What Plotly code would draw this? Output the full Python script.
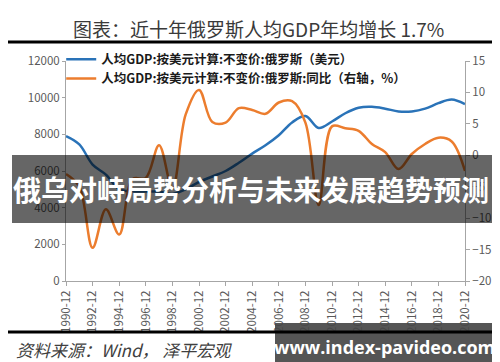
import plotly.graph_objects as go

years = list(range(1990, 2021))
tick_years = list(range(1990, 2021, 2))
tick_labels = [f"{y}-12" for y in tick_years]

gdp_per_capita = [7900, 7450, 6350, 5800, 5000, 4900, 4880, 4880, 4750, 5000,
                  5400, 5700, 6000, 6450, 6950, 7400, 7950, 8650, 9000, 8350,
                  8700, 9150, 9450, 9500, 9400, 9250, 9250, 9400, 9700, 9900, 9650]
gdp_yoy = [-3.0, -5.0, -14.7, -8.6, -12.6, -3.8, -3.6, 1.6, -5.3, 6.5,
           10.4, 5.3, 5.2, 7.5, 7.2, 6.6, 8.4, 8.6, 5.2, -7.9,
           4.6, 4.3, 3.9, 1.8, 0.5, -2.2, 0.2, 1.8, 2.8, 2.2, -2.5]

name_blue = "人均GDP:按美元计算:不变价:俄罗斯（美元）"
name_orange = "人均GDP:按美元计算:不变价:俄罗斯:同比（右轴，%）"
title_text = "图表：近十年俄罗斯人均GDP年均增长 1.7%"
source_text = "资料来源：Wind， 泽平宏观"
banner_text = "俄乌对峙局势分析与未来发展趋势预测"
watermark_text = "www.index-pavideo.com"

FONT = "Noto Sans CJK SC"
GREY = "#595959"
AXIS = "#a6a6a6"

fig = go.Figure()
fig.add_trace(go.Scatter(x=years, y=gdp_per_capita, name=name_blue, mode="lines",
                         line=dict(color="#2a73b8", width=2.5, shape="spline", smoothing=1.0),
                         yaxis="y"))
fig.add_trace(go.Scatter(x=years, y=gdp_yoy, name=name_orange, mode="lines",
                         line=dict(color="#ec7d2e", width=2.5, shape="spline", smoothing=1.0),
                         yaxis="y2"))

fig.update_layout(
    width=500, height=362,
    margin=dict(l=58, r=43, t=53, b=89),
    paper_bgcolor="white", plot_bgcolor="white",
    font=dict(family=FONT, color=GREY),
    showlegend=True,
    legend=dict(x=-0.012, y=1.075, xanchor="left", yanchor="top",
                bgcolor="rgba(0,0,0,0)", font=dict(size=12.5, color="#1a1a1a", family=FONT, weight="bold"),
                itemwidth=30, tracegroupgap=0),
    xaxis=dict(range=[1990, 2020], tickvals=tick_years, ticktext=tick_labels,
               tickangle=-90, showgrid=False, zeroline=False, showline=True,
               linecolor=AXIS, linewidth=1, ticks="outside", tickcolor=AXIS, ticklen=4,
               tickfont=dict(size=11.5, color=GREY)),
    yaxis=dict(range=[0, 12000], dtick=2000, tickformat="d", showgrid=False, zeroline=False,
               showline=True, linecolor=AXIS, linewidth=1, ticks="outside",
               tickcolor=AXIS, ticklen=3, tickfont=dict(size=11.5, color=GREY)),
    yaxis2=dict(range=[-20, 15], dtick=5, overlaying="y", side="right",
                showgrid=False, zeroline=False, showline=True, linecolor=AXIS,
                linewidth=1, ticks="outside", tickcolor=AXIS, ticklen=4,
                tickfont=dict(size=11.5, color=GREY)),
)

def px_x(x):
    return (x - 58) / 399.0

def px_y(y):
    return (273 - y) / 220.0

shapes = [
    dict(type="line", xref="paper", yref="paper", x0=px_x(0), x1=px_x(500),
         y0=px_y(34), y1=px_y(34), line=dict(color="black", width=3), layer="above"),
    dict(type="rect", xref="paper", yref="paper", x0=px_x(4), x1=px_x(496),
         y0=px_y(215), y1=px_y(147), fillcolor="rgba(0,0,0,0.6)",
         line=dict(width=0), layer="above"),
    dict(type="rect", xref="paper", yref="paper", x0=px_x(267), x1=px_x(490),
         y0=px_y(355), y1=px_y(315), fillcolor="rgba(70,70,70,0.92)",
         line=dict(width=0), layer="above"),
    dict(type="line", xref="paper", yref="paper", x0=px_x(0), x1=px_x(500),
         y0=px_y(324), y1=px_y(324), line=dict(color="black", width=3), layer="above"),
]
fig.update_layout(shapes=shapes)

annotations = [
    dict(text=title_text, xref="paper", yref="paper", x=px_x(250), y=px_y(20),
         xanchor="center", yanchor="middle", showarrow=False,
         font=dict(size=19, color="#3a3a3a", family=FONT)),
    dict(text=f"<i>{source_text}</i>", xref="paper", yref="paper", x=px_x(6), y=px_y(341),
         xanchor="left", yanchor="middle", showarrow=False,
         font=dict(size=17, color="#404040", family=FONT)),
    dict(text=f"<b>{banner_text}</b>", xref="paper", yref="paper", x=px_x(243), y=px_y(181),
         xanchor="center", yanchor="middle", showarrow=False,
         font=dict(size=28, color="white", family=FONT)),
    dict(text=f"<b>{watermark_text}</b>", xref="paper", yref="paper", x=px_x(376), y=px_y(339),
         xanchor="center", yanchor="middle", showarrow=False,
         font=dict(size=18, color="white", family="Open Sans")),
]
fig.update_layout(annotations=annotations)

fig.write_html("out.html")
